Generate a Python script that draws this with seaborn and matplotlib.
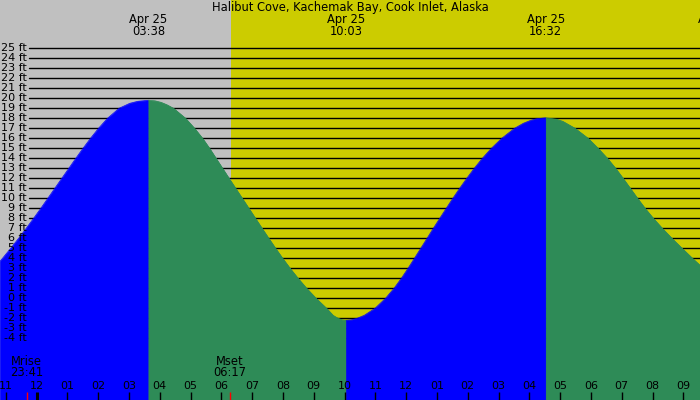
import numpy as np
import matplotlib
matplotlib.use("Agg")
import matplotlib.pyplot as plt
import seaborn as sns

title = "Halibut Cove, Kachemak Bay, Cook Inlet, Alaska"

# tide curve: hours after midnight Apr 25, height in ft
tide_hours = [-1.185, -1.104, -0.838, -0.581, -0.334, -0.094, 0.140, 0.367,
              0.594, 0.821, 1.049, 1.276, 1.510, 1.753, 2.013, 2.305, 2.679,
              3.029, 3.286, 3.633,
              3.847, 4.042, 4.237, 4.448, 4.838, 5.130, 5.390, 5.617, 5.828,
              6.039, 6.250, 6.464, 6.679, 6.893, 7.107, 7.321, 7.539, 7.760,
              7.990, 8.231, 8.490, 8.769, 9.075, 9.416, 9.627, 9.789, 9.919,
              10.050,
              10.211, 10.406, 10.643, 10.990, 11.331, 11.607, 11.844, 12.062,
              12.269, 12.474, 12.679, 12.883, 13.091, 13.302, 13.516, 13.737,
              13.968, 14.211, 14.474, 14.766, 15.104, 15.519, 15.805, 16.045,
              16.224, 16.533,
              16.890, 17.084, 17.484, 17.906, 18.231, 18.532, 18.799, 19.042,
              19.276, 19.510, 19.756, 20.023, 20.315, 20.627, 20.958, 21.295,
              21.540]
tide_ft = [3.7, 4, 5, 6, 7, 8, 9, 10,
           11, 12, 13, 14, 15, 16, 17, 18, 19,
           19.5, 19.7, 19.8,
           19.75, 19.6, 19.35, 19, 18, 17, 16, 15, 14,
           13, 12, 11, 10, 9, 8, 7, 6, 5,
           4, 3, 2, 1, 0, -1, -1.7, -2.0, -2.15,
           -2.2,
           -2.16, -2.0, -1.7, -1, 0, 1, 2, 3,
           4, 5, 6, 7, 8, 9, 10, 11,
           12, 13, 14, 15, 16, 17, 17.5, 17.8,
           17.95, 18.05,
           17.9, 17.7, 17, 16, 15, 14, 13, 12,
           11, 10, 9, 8, 7, 6, 5, 4,
           3.3]

# high / low tide times shown at the top
event_hours = [3.633, 10.05, 16.533, 22.083]
event_dates = ["Apr 25", "Apr 25", "Apr 25", "Apr 25"]
event_times = ["03:38", "10:03", "16:32", "22:05"]

# moon rise / set
moon_hours = [-0.317, 6.283]
moon_names = ["Mrise", "Mset"]
moon_times = ["23:41", "06:17"]

sunrise_hour = 6.31
hour_ticks = list(range(-1, 22))
hour_labels = ["11", "12", "01", "02", "03", "04", "05", "06", "07", "08", "09",
               "10", "11", "12", "01", "02", "03", "04", "05", "06", "07", "08",
               "09"]
ft_levels = list(range(-4, 26))

GREY = "#c0c0c0"
YELLOW = "#cccc00"
BLUE = "#0000ff"
GREEN = "#2e8b57"

sns.set_style("white")
plt.rcParams["font.family"] = ["DejaVu Sans"]
plt.rcParams["text.color"] = "black"
FS = 8.3      # title, tide and moon labels
FS_AX = 8     # foot labels, hours

fig = plt.figure(figsize=(7, 4), dpi=100)
ax = fig.add_axes([0, 0, 1, 1])
x0, x1 = -1.185, 21.54
y0, y1 = -10.17, 29.83
ax.set_xlim(x0, x1)
ax.set_ylim(y0, y1)
ax.axis("off")

# night / day background
ax.axvspan(x0, sunrise_hour, color=GREY, lw=0, zorder=0)
ax.axvspan(sunrise_hour, x1, color=YELLOW, lw=0, zorder=0)

# foot lines and labels
ytrans = ax.get_yaxis_transform()
for f in ft_levels:
    ax.axhline(f, xmin=29 / 700, xmax=1, color="black", lw=1.0, zorder=1)
    ax.text(27 / 700, f, f"{f} ft", transform=ytrans, ha="right", va="center",
            fontsize=FS_AX, zorder=5)

# rising = blue, falling = green
t = np.array(tide_hours)
h = np.array(tide_ft)
bounds = [x0] + event_hours[:3] + [x1]
for i in range(len(bounds) - 1):
    m = (t >= bounds[i]) & (t <= bounds[i + 1])
    col = BLUE if i % 2 == 0 else GREEN
    ax.fill_between(t[m], y0 - 1, h[m], facecolor=col, edgecolor=col,
                    lw=0.5, zorder=2)
    sns.lineplot(x=t[m], y=h[m], color=col, lw=0.5, ax=ax, zorder=2,
                 sort=False, estimator=None)

# hour ticks and labels along the bottom
xtrans = ax.get_xaxis_transform()
for hr, lab in zip(hour_ticks, hour_labels):
    lw = 2.2 if hr % 24 == 0 else 1.0
    ax.vlines(hr, 0, 8 / 400, transform=xtrans, color="black", lw=lw, zorder=6)
    ax.text(hr, 14 / 400, lab, transform=xtrans, ha="center", va="center",
            fontsize=FS_AX, zorder=6)

# moon events
for hr, name, tm in zip(moon_hours, moon_names, moon_times):
    ax.vlines(hr, 0, 8 / 400, transform=xtrans, color="red", lw=1.0, zorder=6)
    ax.text(hr, 32.7 / 400, f"{name}\n{tm}", transform=xtrans, ha="center",
            va="center", ma="center", linespacing=0.82, fontsize=FS, zorder=6)

# tide event labels along the top
for hr, d, tm in zip(event_hours, event_dates, event_times):
    ax.text(hr, 374.5 / 400, f"{d}\n{tm}", transform=xtrans, ha="center",
            va="center", ma="center", linespacing=0.82, fontsize=FS, zorder=6)

ax.text(0.5, 393 / 400, title, transform=ax.transAxes, ha="center",
        va="center", fontsize=FS, zorder=6)

fig.savefig("out.png", dpi=100)
